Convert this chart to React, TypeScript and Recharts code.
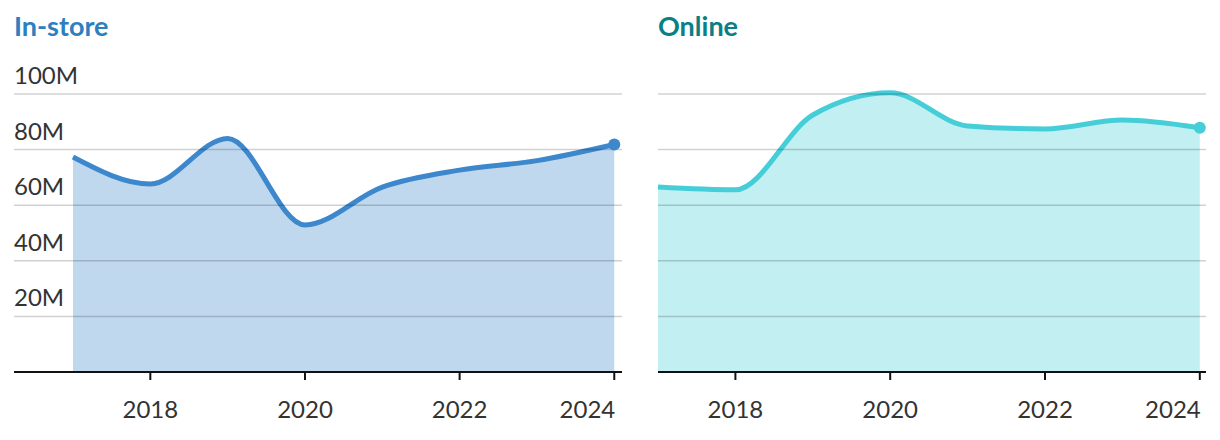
import React from 'react';
import { AreaChart, Area, XAxis, YAxis, ReferenceLine } from 'recharts';

const years = [2017, 2018, 2019, 2020, 2021, 2022, 2023, 2024];
const inStore = [77.3, 67.6, 84.0, 52.9, 66.5, 72.6, 76.0, 81.8];
const online = [66.5, 65.5, 92.4, 100.4, 88.5, 87.4, 90.6, 87.8];
const yTicks = [20, 40, 60, 80, 100];
const xTicks = [2018, 2020, 2022, 2024];

const FONT = 'Lato, "Open Sans", sans-serif';

const inStoreData = years.map((year, i) => ({ year, value: inStore[i] }));
const onlineData = years.map((year, i) => ({ year, value: online[i] }));

const XTick = (props: any) => {
  const { x, y, payload } = props;
  const isLast = payload.value === xTicks[xTicks.length - 1];
  return (
    <text
      x={isLast ? x + 1 : x}
      y={y + 36}
      fill="#333"
      fontSize={24}
      fontFamily={FONT}
      textAnchor={isLast ? 'end' : 'middle'}
    >
      {payload.value}
    </text>
  );
};

interface PanelProps {
  title: string;
  titleColor: string;
  lineColor: string;
  data: { year: number; value: number }[];
  left: number;
  width: number;
  domainMin: number;
  domainMax: number;
  showYLabels: boolean;
}

const Panel: React.FC<PanelProps> = ({ title, titleColor, lineColor, data, left, width, domainMin, domainMax, showYLabels }) => {
  const last = data.length - 1;
  const dot = (props: any) => {
    if (props.index !== last) return <g key={props.index} />;
    return <circle key={props.index} cx={props.cx} cy={props.cy} r={6} fill={lineColor} />;
  };
  return (
    <div style={{ position: 'absolute', left, top: 0, width, height: 440 }}>
      <div
        style={{
          position: 'absolute',
          left: 14,
          top: 11,
          fontFamily: FONT,
          fontWeight: 700,
          fontSize: 27,
          color: titleColor,
          lineHeight: '30px',
        }}
      >
        {title}
      </div>
      <AreaChart width={width} height={440} data={data} margin={{ top: 80, right: 14, left: 14, bottom: 28 }}>
        <XAxis
          dataKey="year"
          type="number"
          domain={[domainMin, domainMax]}
          ticks={xTicks}
          height={40}
          stroke="#111"
          strokeWidth={2}
          tickSize={8}
          tick={<XTick />}
          allowDataOverflow
        />
        <YAxis type="number" domain={[0, 105]} ticks={yTicks} hide allowDataOverflow />
        <Area
          type="monotone"
          dataKey="value"
          stroke={lineColor}
          strokeWidth={5}
          fill={lineColor}
          fillOpacity={0.33}
          dot={dot}
          activeDot={false}
          isAnimationActive={false}
        />
        {yTicks.map((v) => (
          <ReferenceLine
            key={v}
            y={v}
            stroke="rgba(0,0,0,0.18)"
            strokeWidth={1.5}
            label={
              showYLabels
                ? (p: any) => (
                    <text
                      x={p.viewBox.x}
                      y={p.viewBox.y - 10}
                      fill="#333"
                      fontSize={24}
                      fontFamily={FONT}
                      textAnchor="start"
                    >
                      {v}M
                    </text>
                  )
                : undefined
            }
          />
        ))}
      </AreaChart>
    </div>
  );
};

export default function App() {
  return (
    <div style={{ position: 'absolute', left: 0, top: 0, width: 1220, height: 440, background: '#fff' }}>
      <Panel
        title="In-store"
        titleColor="#2e7fc0"
        lineColor="#3d88cc"
        data={inStoreData}
        left={0}
        width={636}
        domainMin={2016.237}
        domainMax={2024.1}
        showYLabels
      />
      <Panel
        title="Online"
        titleColor="#0b7f86"
        lineColor="#45ced8"
        data={onlineData}
        left={644}
        width={576}
        domainMin={2017}
        domainMax={2024.08}
        showYLabels={false}
      />
    </div>
  );
}
